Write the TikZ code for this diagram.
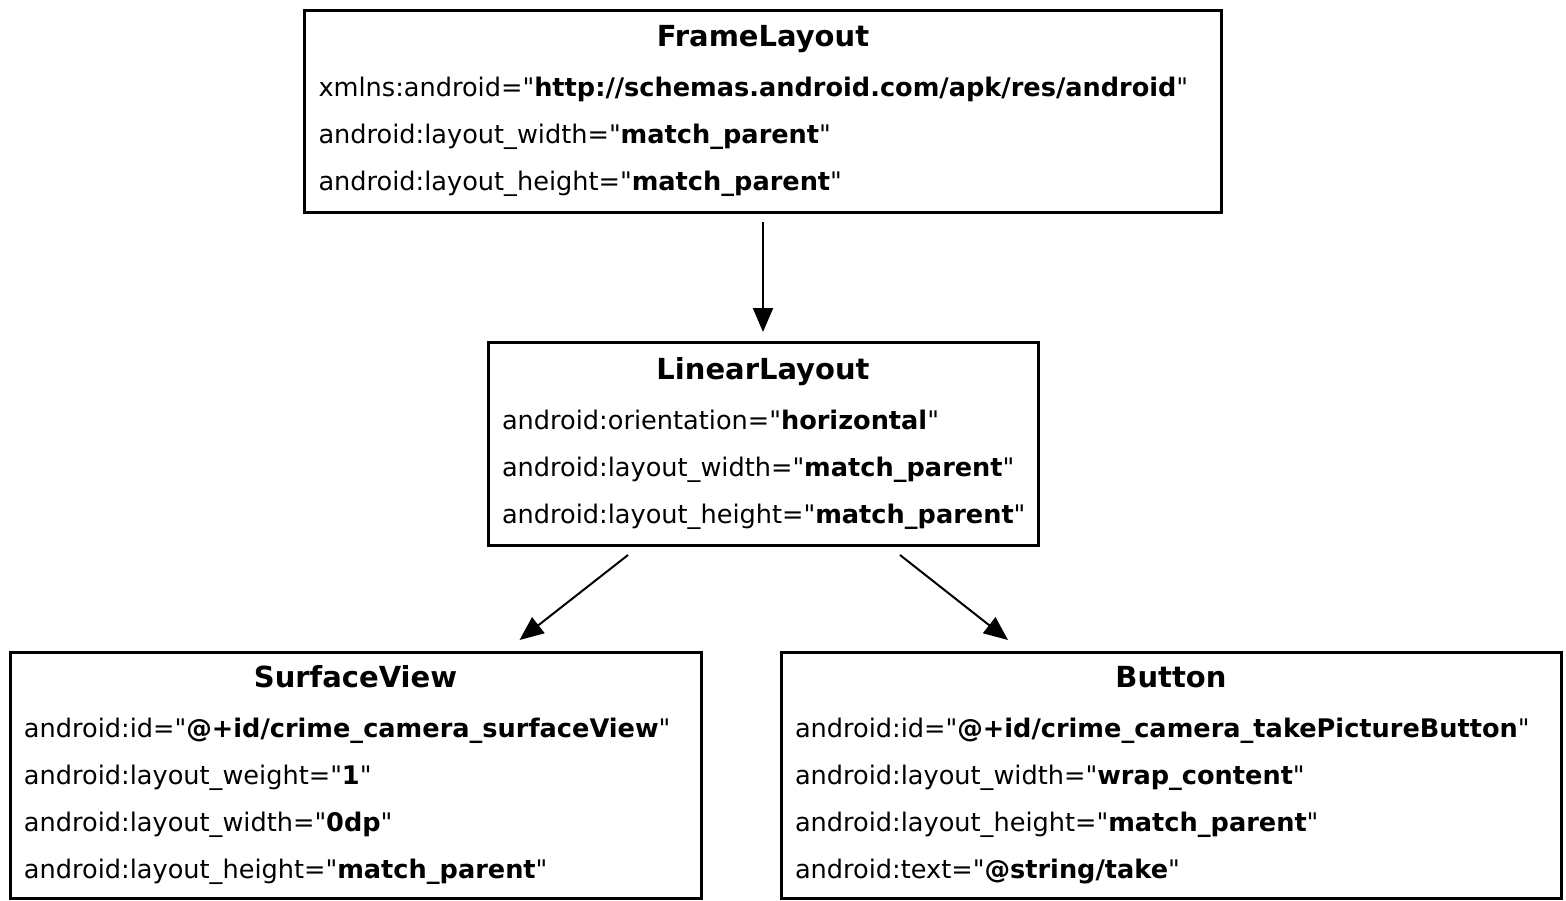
\documentclass[tikz,border=0pt]{standalone}
\usepackage{fontspec}
\setmainfont{DejaVu Sans}[Ligatures=TeXReset]
\usepackage{tikz}
\usetikzlibrary{positioning, arrows.meta, calc}
\tikzset{every picture/.append style={thick}}
\tikzset{
  attrbox/.style={draw, line width=1.5pt, inner xsep=7pt, inner ysep=0pt, outer sep=0pt,
    align=left, font=\fontsize{12.8pt}{23.5pt}\selectfont},
  flow/.style={-{Triangle[length=12pt,width=10pt]}, line width=1pt}
}
\newcommand{\boxtitle}[1]{\centerline{\fontsize{14.5pt}{23.5pt}\selectfont\bfseries #1}\vspace{1.5pt}}

\begin{document}
\begin{tikzpicture}[x=0.5pt, y=-0.5pt]
            \useasboundingbox (0,0) rectangle (1566,900);

            % Root layout
            \node[attrbox, minimum width=458.5pt, minimum height=101pt, text width=444.5pt] (frame) at (763,111)
              {\boxtitle{FrameLayout}
               xmlns:android="\textbf{http://schemas.android.com/apk/res/android}"\\
               android:layout\_width="\textbf{match\_parent}"\\
               android:layout\_height="\textbf{match\_parent}"};

            % Middle layout
            \node[attrbox, minimum width=275pt, minimum height=101.5pt, text width=261pt] (linear) at (763,443.5)
              {\boxtitle{LinearLayout}
               android:orientation="\textbf{horizontal}"\\
               android:layout\_width="\textbf{match\_parent}"\\
               android:layout\_height="\textbf{match\_parent}"};

            % Children
            \node[attrbox, minimum width=345.5pt, minimum height=123pt, text width=331.5pt] (surface) at (355.5,775)
              {\boxtitle{SurfaceView}
               android:id="\textbf{@+id/crime\_camera\_surfaceView}"\\
               android:layout\_weight="\textbf{1}"\\
               android:layout\_width="\textbf{0dp}"\\
               android:layout\_height="\textbf{match\_parent}"};
            \node[attrbox, minimum width=390pt, minimum height=123pt, text width=376pt] (button) at (1171,775)
              {\boxtitle{Button}
               android:id="\textbf{@+id/crime\_camera\_takePictureButton}"\\
               android:layout\_width="\textbf{wrap\_content}"\\
               android:layout\_height="\textbf{match\_parent}"\\
               android:text="\textbf{@string/take}"};

            % Arrows
            \draw[flow] ([yshift=-5pt]frame.south) -- ([yshift=5pt]linear.north);
            \draw[flow] ([xshift=-67.5pt,yshift=-5pt]linear.south) -- ([xshift=82pt,yshift=6pt]surface.north);
            \draw[flow] ([xshift=68.5pt,yshift=-5pt]linear.south) -- ([xshift=-81.5pt,yshift=6pt]button.north);
        \end{tikzpicture}
\end{document}
